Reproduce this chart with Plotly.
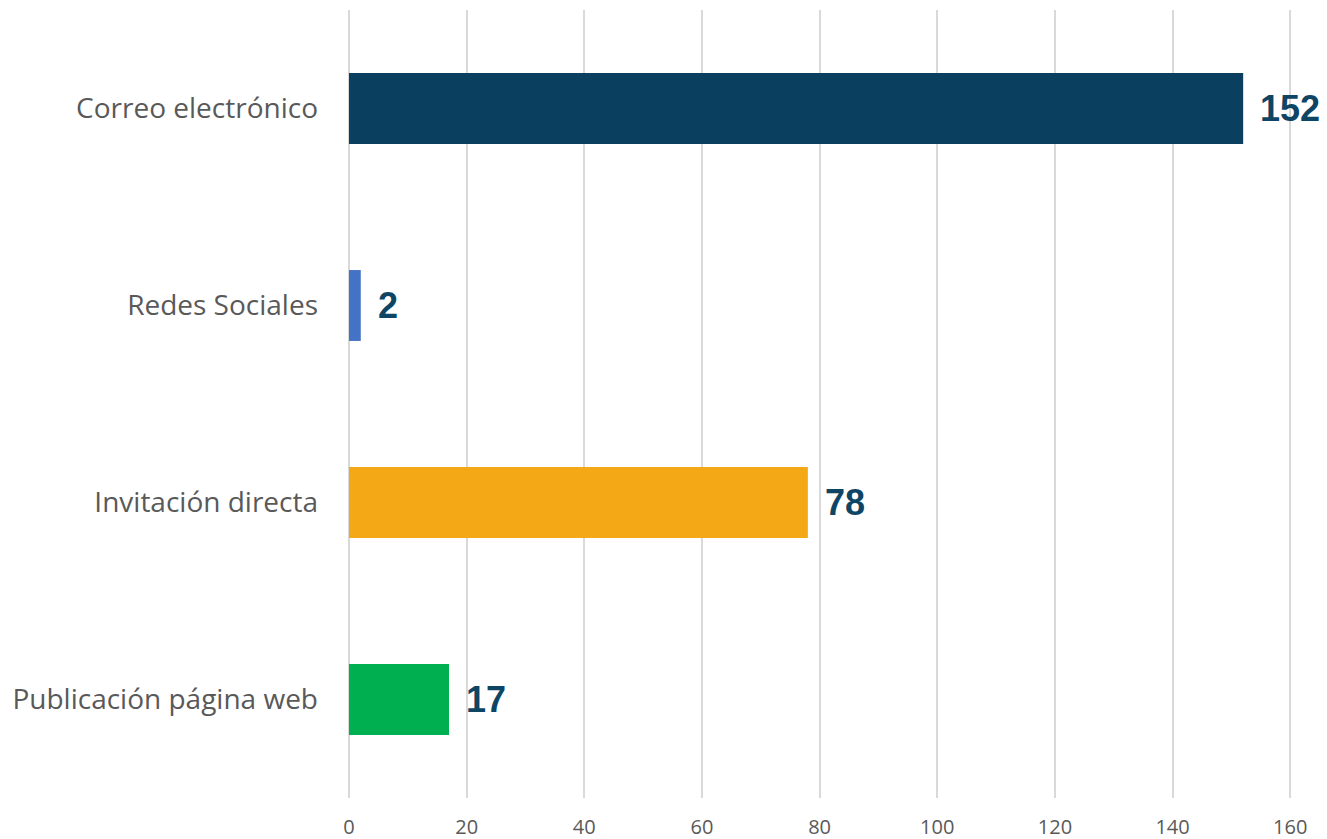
import plotly.graph_objects as go

categorias = ["Correo electrónico", "Redes Sociales", "Invitación directa", "Publicación página web"]
valores = [152, 2, 78, 17]
colores = ["#0B3F5F", "#4472C4", "#F5A816", "#00B050"]
ticks_x = [0, 20, 40, 60, 80, 100, 120, 140, 160]

fig = go.Figure()
fig.add_trace(go.Bar(
    y=categorias,
    x=valores,
    orientation="h",
    marker=dict(color=colores, line=dict(width=0)),
    width=0.36,
    hoverinfo="x+y",
))

# etiquetas de valor
for cat, val in zip(categorias, valores):
    fig.add_annotation(
        x=val, y=cat, text=f"<b>{val}</b>", showarrow=False,
        xanchor="left", xshift=15,
        font=dict(family="Liberation Sans, Arial", size=36, color="#0E4565"),
    )

# la página deja 8px de margen al cuerpo, así que la figura es algo más pequeña
fig.update_layout(
    width=1319, height=831,
    margin=dict(l=341, r=35, t=2, b=41),
    paper_bgcolor="white", plot_bgcolor="white",
    showlegend=False,
    bargap=0.64,
)
# rango un poco mayor que 160 para que se dibuje la última línea de rejilla
fig.update_xaxes(
    range=[0, 160.3], tickvals=ticks_x,
    showgrid=True, gridcolor="#D9D9D9", gridwidth=1.5,
    zeroline=True, zerolinecolor="#D9D9D9", zerolinewidth=1.5,
    showline=False, automargin=False,
    tickfont=dict(family="Open Sans", size=20, color="#595959"),
    ticklabelstandoff=15,
)
fig.update_yaxes(
    categoryorder="array", categoryarray=categorias[::-1],
    showgrid=False, zeroline=False, showline=False, automargin=False,
    tickfont=dict(family="Open Sans", size=28, color="#595959"),
    ticklabelstandoff=30,
)

fig.write_html("out.html")
